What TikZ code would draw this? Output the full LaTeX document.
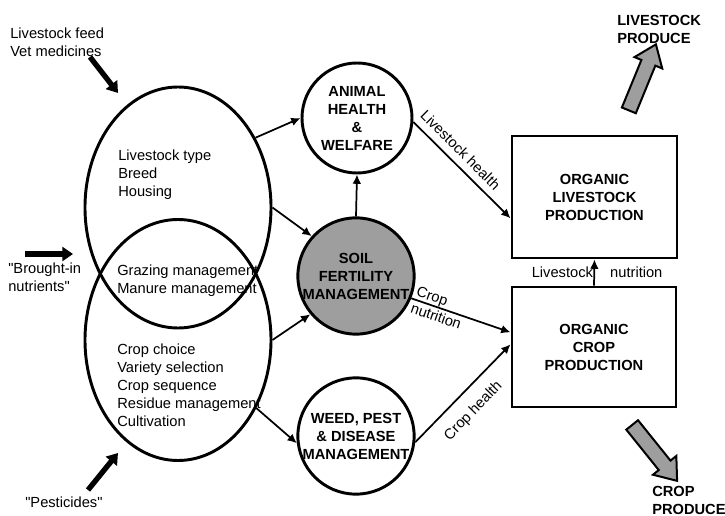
\documentclass[tikz,border=0pt]{standalone}
\usepackage{fontspec}
\setmainfont{Liberation Sans}
\usetikzlibrary{positioning,calc,arrows.meta,shapes.geometric,shapes.arrows}

\begin{document}
\begin{tikzpicture}[x=0.75pt,y=0.75pt,>={Latex[length=7pt,width=6.5pt]},
  every node/.style={font=\fontsize{11}{13.5}\selectfont,align=center},
  lobe/.style={ellipse,draw,line width=2.2pt,minimum width=139.5pt,minimum height=180.75pt},
  hub/.style={circle,draw,line width=2.2pt,minimum size=82.5pt,inner sep=0pt,
    font=\fontsize{11}{13.5}\selectfont\bfseries},
  block/.style={rectangle,draw,line width=2.2pt,font=\fontsize{11}{13.5}\selectfont\bfseries},
  listing/.style={align=left,anchor=north west,inner sep=0pt},
  flow/.style={->,line width=1.3pt},
  supply/.style={-{Triangle[length=8pt,width=10.5pt]},line width=4pt},
  yield/.style={single arrow,draw,fill=black!38,line width=1.5pt,inner sep=4.9pt,
    single arrow head extend=5.6pt,single arrow tip angle=74}]
\useasboundingbox (0,0) rectangle (725,515);

% management areas
\node[lobe] (lv) at (178,307.5) {};
\node[lobe] (cr) at (178,175) {};
\node[listing] (lvtxt) at (118,365) {Livestock type\\Breed\\Housing};
\node[listing] (mix) at (117,250) {Grazing management\\Manure management};
\node[listing] (crtxt) at (117,171) {Crop choice\\Variety selection\\Crop sequence\\Residue management\\Cultivation};

% inputs
\node[listing] (feed) at (10,487) {Livestock feed\\Vet medicines};
\node[listing] (nutr) at (8,252) {\textquotedbl Brought-in\\nutrients\textquotedbl};
\node[listing] (pest) at (25,18) {\textquotedbl Pesticides\textquotedbl};
\coordinate (f1) at (90,458);  \coordinate (f2) at (118,422);
\coordinate (n1) at (25,261);  \coordinate (n2) at (73,261);
\coordinate (p1) at (88,25);   \coordinate (p2) at (118,62);
\draw[supply] (f1) -- (f2);
\draw[supply] (n1) -- (n2);
\draw[supply] (p1) -- (p2);

% middle column
\node[hub] (an) at (357,397) {ANIMAL\\HEALTH\\\&\\WELFARE};
\node[hub,fill=black!38] (sf) at (356,239) {SOIL\\FERTILITY\\MANAGEMENT};
\node[hub] (wp) at (356,79) {WEED, PEST\\\& DISEASE\\MANAGEMENT};

% production
\node[block,minimum width=123.75pt,minimum height=91.5pt] (lb) at (594.5,318) {ORGANIC\\LIVESTOCK\\PRODUCTION};
\node[block,minimum width=123pt,minimum height=90pt] (cb) at (594,168) {ORGANIC\\CROP\\PRODUCTION};

% outputs
\node[yield,minimum height=53.5pt,rotate=67.7] (lp) at (640.5,433) {};
\node[yield,minimum height=53.8pt,rotate=-51.2] (cp) at (651.5,66) {};
\node[listing,font=\fontsize{11}{13.5}\selectfont\bfseries] (lptxt) at (617,500) {LIVESTOCK\\PRODUCE};
\node[listing,font=\fontsize{11}{13.5}\selectfont\bfseries] (cptxt) at (652,29) {CROP\\PRODUCE};

% links
\draw[flow] (lv.42) -- (an.180);
\draw[flow] (lv.0) -- (sf.138);
\draw[flow] (cr.0) -- (sf.220);
\draw[flow] (cr.-41) -- (wp.187);
\draw[flow] (sf.north) -- (an.south);
\draw[flow] (an.-4) -- node[sloped,above=2pt,pos=0.39] {Livestock health} ([yshift=-16pt]lb.west);
\draw[flow] (sf.-22) -- node[sloped,pos=0.28,align=left,inner sep=1pt] {Crop\\nutrition} ([yshift=11pt]cb.west);
\draw[flow] (wp.-6) -- node[sloped,below=6pt,pos=0.46] {Crop health} ([yshift=2pt]cb.west);
\draw[flow] (cb.north) -- node[left=-3pt] {Livestock} node[right=8pt] {nutrition} (lb.south);
\end{tikzpicture}
\end{document}
